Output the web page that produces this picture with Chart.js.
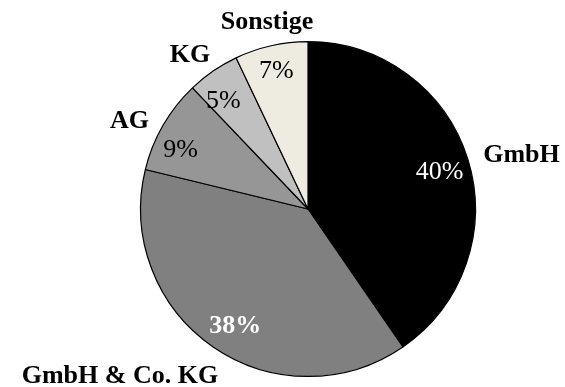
<!DOCTYPE html>
<html>
<head>
<meta charset="utf-8">
<script src="https://cdn.jsdelivr.net/npm/chart.js@4/dist/chart.umd.min.js"></script>
<style>
  html, body { margin: 0; padding: 0; background: #ffffff; }
  #wrap { width: 565px; height: 387px; }
</style>
</head>
<body>
<div id="wrap"><canvas id="pie" width="565" height="387"></canvas></div>
<script>
// Rechtsformen und ihre Anteile (in %)
const categories = ['GmbH', 'GmbH & Co. KG', 'AG', 'KG', 'Sonstige'];
const shares = [40, 38, 9, 5, 7];
const sliceColors = ['#000000', '#808080', '#969696', '#c0c0c0', '#eeece1'];

const FONT = '"Liberation Serif", "Times New Roman", serif';
const SIZE = 26;

// Label placement tweaks (pixels), one entry per slice
const pctNudge = [[-1, 3], [6, 1], [-7, 9], [-6, 5], [-1, -4]];
const catNudge = [[2, 2], [13, 5], [-2, 8], [5, 4], [-1, 1]];
const pctStyle = [
  { color: '#ffffff', bold: false },
  { color: '#ffffff', bold: true },
  { color: '#000000', bold: false },
  { color: '#000000', bold: false },
  { color: '#000000', bold: false }
];

const sliceLabels = {
  id: 'sliceLabels',
  afterDatasetsDraw(chart) {
    const ctx = chart.ctx;
    const meta = chart.getDatasetMeta(0);
    const capHalf = SIZE * 0.662 / 2;
    ctx.save();
    meta.data.forEach((arc, i) => {
      const p = arc.getProps(['x', 'y', 'startAngle', 'endAngle', 'outerRadius'], true);
      const mid = (p.startAngle + p.endAngle) / 2;
      const c = Math.cos(mid), s = Math.sin(mid);

      // value inside the slice
      const ri = p.outerRadius * 0.83;
      const px = p.x + c * ri + pctNudge[i][0];
      const py = p.y + s * ri + pctNudge[i][1];
      ctx.font = (pctStyle[i].bold ? 'bold ' : '') + SIZE + 'px ' + FONT;
      ctx.fillStyle = pctStyle[i].color;
      ctx.textAlign = 'center';
      ctx.textBaseline = 'alphabetic';
      ctx.fillText(shares[i] + '%', px, py + capHalf);

      // category name outside the slice
      const ro = p.outerRadius + 14;
      let ax = p.x + c * ro;
      let ay = p.y + s * ro;
      ay += s * capHalf * 1.5;
      ax += catNudge[i][0];
      ay += catNudge[i][1];
      ctx.font = 'bold ' + SIZE + 'px ' + FONT;
      ctx.fillStyle = '#000000';
      ctx.textAlign = c > 0.3 ? 'left' : (c < -0.3 ? 'right' : 'center');
      ctx.fillText(categories[i], ax, ay + capHalf);
    });
    ctx.restore();
  }
};

new Chart(document.getElementById('pie'), {
  type: 'pie',
  data: {
    labels: categories,
    datasets: [{
      data: shares,
      backgroundColor: sliceColors,
      borderColor: '#000000',
      borderWidth: 1.2
    }]
  },
  options: {
    responsive: false,
    animation: false,
    events: [],
    layout: { padding: { left: 140, top: 41, right: 89, bottom: 10 } },
    plugins: {
      legend: { display: false },
      tooltip: { enabled: false }
    }
  },
  plugins: [sliceLabels]
});
</script>
</body>
</html>
